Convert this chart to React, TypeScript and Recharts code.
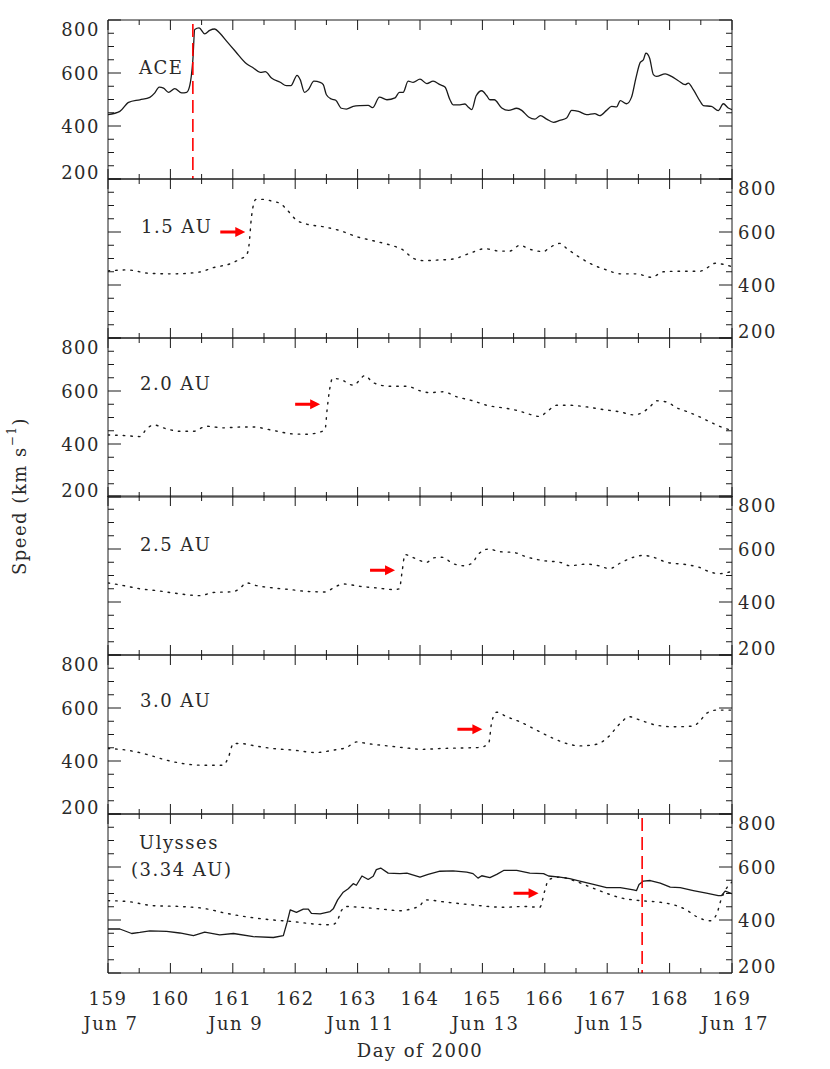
import React from "react";
import { LineChart, Line, XAxis, YAxis, ReferenceLine, ReferenceDot } from "recharts";

const FONT = "'DejaVu Serif', serif";
const INK = "#1a1a1a";
const RED = "#ff0000";

// axis ticks
const X_TICKS = [159, 159.5, 160, 160.5, 161, 161.5, 162, 162.5, 163, 163.5, 164, 164.5, 165, 165.5, 166, 166.5, 167, 167.5, 168, 168.5, 169];
const Y_TICKS = [200, 250, 300, 350, 400, 450, 500, 550, 600, 650, 700, 750, 800];
const DATE_LABELS: Record<number, string> = {
  159: "Jun 7",
  161: "Jun 9",
  163: "Jun 11",
  165: "Jun 13",
  167: "Jun 15",
  169: "Jun 17",
};

// [day, speed km/s]
const ACE: [number, number][] = [
  [159.0, 443], [159.19, 455], [159.33, 489], [159.51, 499], [159.67, 508], [159.75, 525], [159.82, 547], [159.89, 543],
  [159.97, 527], [160.07, 541], [160.18, 525], [160.26, 527], [160.31, 552], [160.36, 650], [160.39, 764], [160.46, 770],
  [160.55, 748], [160.63, 761], [160.71, 766], [160.79, 751], [160.9, 720], [161.04, 682], [161.22, 635], [161.33, 619],
  [161.44, 602], [161.52, 605], [161.62, 581], [161.76, 565], [161.86, 552], [161.93, 552], [162.03, 591], [162.08, 575],
  [162.15, 527], [162.21, 537], [162.3, 569], [162.4, 565], [162.45, 556], [162.5, 518], [162.58, 502], [162.65, 497],
  [162.74, 467], [162.82, 464], [162.93, 474], [163.04, 477], [163.17, 478], [163.24, 469], [163.35, 509], [163.47, 499],
  [163.6, 506], [163.67, 527], [163.73, 527], [163.81, 569], [163.89, 565], [164.0, 577], [164.11, 560], [164.21, 569],
  [164.32, 556], [164.4, 547], [164.48, 499], [164.53, 480], [164.64, 480], [164.72, 483], [164.77, 472], [164.83, 462],
  [164.9, 514], [164.99, 533], [165.07, 514], [165.12, 499], [165.19, 499], [165.31, 468], [165.42, 459], [165.55, 467],
  [165.63, 459], [165.74, 434], [165.84, 426], [165.93, 439], [166.03, 426], [166.14, 414], [166.24, 421], [166.35, 430],
  [166.43, 459], [166.54, 455], [166.67, 443], [166.8, 447], [166.88, 439], [166.99, 459], [167.07, 474], [167.15, 472],
  [167.21, 496], [167.31, 484], [167.39, 509], [167.46, 581], [167.53, 640], [167.58, 650], [167.62, 675], [167.68, 656],
  [167.74, 594], [167.79, 587], [167.93, 597], [168.03, 587], [168.14, 571], [168.25, 556], [168.3, 562], [168.38, 537],
  [168.49, 493], [168.54, 477], [168.67, 474], [168.78, 458], [168.86, 484], [168.94, 468], [169.0, 462],
];

const AU15: [number, number][] = [
  [159.0, 453], [159.3, 457], [159.67, 444], [160.05, 442], [160.47, 449], [160.68, 465], [160.98, 482], [161.11, 497],
  [161.22, 513], [161.26, 551], [161.3, 658], [161.37, 723], [161.49, 723], [161.65, 715], [161.76, 708], [161.86, 686],
  [162.02, 645], [162.18, 630], [162.45, 620], [162.72, 605], [162.99, 582], [163.25, 567], [163.52, 551], [163.73, 532],
  [163.89, 501], [164.05, 492], [164.27, 494], [164.53, 498], [164.8, 520], [165.04, 537], [165.28, 528], [165.44, 528],
  [165.6, 550], [165.76, 535], [165.98, 526], [166.06, 538], [166.24, 557], [166.35, 538], [166.56, 504], [166.78, 475],
  [166.99, 457], [167.21, 442], [167.47, 442], [167.71, 429], [167.9, 450], [168.17, 452], [168.49, 452], [168.59, 463],
  [168.73, 482], [168.86, 478], [169.0, 469],
];

const AU20: [number, number][] = [
  [159.0, 434], [159.25, 432], [159.51, 428], [159.62, 457], [159.73, 472], [159.94, 457], [160.15, 448], [160.37, 448],
  [160.58, 467], [160.85, 461], [161.12, 464], [161.33, 464], [161.65, 451], [161.97, 438], [162.18, 437], [162.4, 445],
  [162.48, 457], [162.51, 527], [162.55, 603], [162.6, 648], [162.72, 644], [162.93, 622], [163.12, 658], [163.25, 631],
  [163.52, 618], [163.79, 618], [164.0, 601], [164.16, 594], [164.37, 597], [164.59, 578], [164.85, 563], [165.07, 546],
  [165.34, 536], [165.55, 527], [165.76, 512], [165.92, 504], [166.03, 521], [166.19, 546], [166.4, 546], [166.67, 540],
  [166.94, 530], [167.21, 521], [167.42, 510], [167.58, 521], [167.69, 542], [167.79, 563], [167.95, 559], [168.11, 537],
  [168.27, 523], [168.43, 508], [168.65, 483], [168.83, 464], [169.0, 451],
];

const AU25: [number, number][] = [
  [159.0, 472], [159.25, 462], [159.51, 450], [159.78, 443], [160.05, 434], [160.47, 424], [160.69, 436], [161.01, 439],
  [161.12, 453], [161.22, 472], [161.38, 462], [161.65, 453], [161.92, 447], [162.18, 440], [162.48, 438], [162.64, 457],
  [162.77, 468], [163.04, 459], [163.31, 453], [163.57, 447], [163.67, 450], [163.71, 509], [163.76, 579], [163.84, 573],
  [164.0, 556], [164.11, 550], [164.21, 566], [164.35, 569], [164.53, 545], [164.69, 537], [164.83, 545], [164.93, 579],
  [165.1, 600], [165.28, 590], [165.5, 587], [165.71, 570], [165.98, 556], [166.24, 550], [166.4, 537], [166.67, 543],
  [166.86, 537], [167.04, 526], [167.21, 547], [167.42, 569], [167.58, 576], [167.74, 569], [167.95, 550], [168.27, 541],
  [168.46, 532], [168.65, 513], [168.81, 507], [169.0, 516],
];

const AU30: [number, number][] = [
  [159.0, 447], [159.3, 441], [159.62, 425], [159.94, 403], [160.21, 390], [160.53, 384], [160.85, 384], [160.93, 415],
  [161.01, 466], [161.12, 466], [161.38, 456], [161.65, 447], [161.97, 441], [162.34, 432], [162.61, 441], [162.82, 451],
  [162.99, 472], [163.15, 466], [163.52, 456], [163.79, 449], [164.05, 444], [164.32, 447], [164.64, 449], [164.96, 451],
  [165.1, 466], [165.15, 548], [165.23, 584], [165.39, 567], [165.6, 548], [165.87, 516], [166.14, 485], [166.35, 466],
  [166.56, 457], [166.83, 463], [166.99, 485], [167.21, 542], [167.35, 567], [167.53, 554], [167.79, 535], [168.06, 529],
  [168.38, 532], [168.49, 552], [168.59, 580], [168.75, 592], [169.0, 592],
];

const ULYSSES_OBS: [number, number][] = [
  [159.0, 366], [159.19, 366], [159.38, 349], [159.51, 353], [159.67, 359], [159.94, 357], [160.15, 351], [160.37, 341],
  [160.55, 354], [160.79, 344], [161.01, 349], [161.33, 337], [161.65, 334], [161.81, 341], [161.87, 391], [161.92, 438],
  [162.02, 429], [162.13, 441], [162.21, 441], [162.26, 425], [162.4, 423], [162.56, 432], [162.61, 442], [162.68, 476],
  [162.77, 505], [162.85, 518], [162.93, 537], [162.98, 531], [163.07, 566], [163.17, 553], [163.25, 565], [163.3, 590],
  [163.37, 596], [163.49, 577], [163.68, 575], [163.79, 577], [164.0, 562], [164.13, 572], [164.32, 584], [164.53, 585],
  [164.75, 581], [164.85, 575], [164.93, 558], [164.99, 567], [165.12, 560], [165.23, 572], [165.34, 587], [165.55, 587],
  [165.76, 577], [165.98, 575], [166.06, 566], [166.24, 562], [166.4, 556], [166.56, 547], [166.78, 534], [166.99, 522],
  [167.21, 522], [167.42, 514], [167.47, 511], [167.51, 534], [167.58, 547], [167.69, 549], [167.85, 539], [168.01, 524],
  [168.17, 522], [168.38, 511], [168.59, 501], [168.78, 492], [168.83, 492], [168.89, 509], [169.0, 499],
];

const ULYSSES_MODEL: [number, number][] = [
  [159.0, 473], [159.3, 470], [159.73, 454], [160.15, 451], [160.53, 444], [160.9, 425], [161.28, 410], [161.65, 400],
  [161.97, 394], [162.29, 385], [162.58, 382], [162.66, 391], [162.74, 435], [162.8, 451], [163.04, 448], [163.36, 442],
  [163.68, 435], [163.89, 444], [164.0, 454], [164.08, 476], [164.43, 467], [164.8, 458], [165.34, 448], [165.66, 451],
  [165.92, 448], [166.0, 511], [166.06, 552], [166.24, 562], [166.46, 549], [166.67, 530], [166.94, 505], [167.21, 484],
  [167.53, 473], [167.85, 467], [168.11, 454], [168.27, 438], [168.43, 413], [168.65, 397], [168.75, 420], [168.83, 480],
  [168.89, 511], [169.0, 543],
];

// shock arrival markers
const SHOCK_ACE = 160.36;
const SHOCK_ULYSSES = 167.56;

// layout
const CHART_W = 830;
const PLOT_L = 108;
const PLOT_R = 732;
const PAD = 5;
const PANEL_H = 159;
const PANEL_TOPS = [20, 179, 338, 496, 655, 814];
const BOTTOM_AXIS_H = 90;

const toPts = (arr: [number, number][]) => arr.map(([day, v]) => ({ day, v }));

const textStyle = { fontFamily: FONT, fontSize: 18, fill: "#2a2a2a", letterSpacing: 1.5 };

function yTick(side: "left" | "right", labelled: boolean) {
  return (p: any) => {
    const v = p.payload.value;
    const y = p.y;
    const major = v % 200 === 0;
    const len = major ? 13 : 6;
    const x0 = side === "left" ? PLOT_L : PLOT_R;
    const x1 = side === "left" ? x0 + len : x0 - len;
    const dy = v === 800 ? 9 : v === 200 ? -7 : 0;
    return (
      <g>
        <line x1={x0} x2={x1} y1={y} y2={y} stroke={INK} strokeWidth={1} />
        {labelled && major && (
          <text
            x={side === "left" ? x0 - 8 : x0 + 6}
            y={y + dy}
            textAnchor={side === "left" ? "end" : "start"}
            dominantBaseline="central"
            style={textStyle}
          >
            {v}
          </text>
        )}
      </g>
    );
  };
}

function xTick(pos: "top" | "bottom", labelled: boolean) {
  return (p: any) => {
    const v = p.payload.value;
    const x = p.x;
    const major = Number.isInteger(v);
    const len = major ? 10 : 5;
    const y0 = pos === "top" ? PAD : PAD + PANEL_H;
    const y1 = pos === "top" ? y0 + len : y0 - len;
    return (
      <g>
        <line x1={x} x2={x} y1={y0} y2={y1} stroke={INK} strokeWidth={1} />
        {labelled && major && (
          <text x={x} y={y0 + 25} textAnchor="middle" dominantBaseline="central" style={textStyle}>
            {v}
          </text>
        )}
        {labelled && DATE_LABELS[v] && (
          <text x={x + 3} y={y0 + 50} textAnchor="middle" dominantBaseline="central" style={textStyle}>
            {DATE_LABELS[v]}
          </text>
        )}
      </g>
    );
  };
}

const Arrow = (p: any) => {
  const { cx, cy } = p;
  const d = `M${cx - 25},${cy - 1.5} L${cx - 10},${cy - 1.5} L${cx - 10},${cy - 5} L${cx},${cy} L${cx - 10},${cy + 5} L${cx - 10},${cy + 1.5} L${cx - 25},${cy + 1.5} Z`;
  return <path d={d} fill={RED} />;
};

type Series = { data: [number, number][]; dotted: boolean; smooth: boolean };
type Panel = {
  series: Series[];
  labelSide: "left" | "right";
  arrow?: { day: number; v: number };
  shock?: number;
  showX?: boolean;
};

const PANELS: Panel[] = [
  { series: [{ data: ACE, dotted: false, smooth: true }], labelSide: "left", shock: SHOCK_ACE },
  { series: [{ data: AU15, dotted: true, smooth: true }], labelSide: "right", arrow: { day: 161.2, v: 600 } },
  { series: [{ data: AU20, dotted: true, smooth: true }], labelSide: "left", arrow: { day: 162.4, v: 550 } },
  { series: [{ data: AU25, dotted: true, smooth: true }], labelSide: "right", arrow: { day: 163.6, v: 520 } },
  { series: [{ data: AU30, dotted: true, smooth: true }], labelSide: "left", arrow: { day: 165.0, v: 520 } },
  {
    series: [
      { data: ULYSSES_MODEL, dotted: true, smooth: true },
      { data: ULYSSES_OBS, dotted: false, smooth: false },
    ],
    labelSide: "right",
    arrow: { day: 165.9, v: 501 },
    shock: SHOCK_ULYSSES,
    showX: true,
  },
];

function PanelChart({ panel }: { panel: Panel }) {
  const bottomH = panel.showX ? BOTTOM_AXIS_H : 1;
  const height = PANEL_H + 2 * PAD + (panel.showX ? BOTTOM_AXIS_H - 1 : 0);
  return (
    <LineChart width={CHART_W} height={height} margin={{ top: PAD - 1, right: 38, bottom: PAD - 1, left: 48 }}>
      <XAxis
        xAxisId="b"
        dataKey="day"
        type="number"
        domain={[159, 169]}
        ticks={X_TICKS}
        interval={0}
        height={bottomH}
        tickLine={false}
        axisLine={{ stroke: INK }}
        tick={xTick("bottom", !!panel.showX)}
        allowDataOverflow
      />
      <XAxis
        xAxisId="t"
        orientation="top"
        dataKey="day"
        type="number"
        domain={[159, 169]}
        ticks={X_TICKS}
        interval={0}
        height={1}
        tickLine={false}
        axisLine={{ stroke: INK }}
        tick={xTick("top", false)}
        allowDataOverflow
      />
      <YAxis
        yAxisId="l"
        type="number"
        domain={[200, 800]}
        ticks={Y_TICKS}
        interval={0}
        width={60}
        tickLine={false}
        axisLine={{ stroke: INK }}
        tick={yTick("left", panel.labelSide === "left")}
        allowDataOverflow
      />
      <YAxis
        yAxisId="r"
        orientation="right"
        type="number"
        domain={[200, 800]}
        ticks={Y_TICKS}
        interval={0}
        width={60}
        tickLine={false}
        axisLine={{ stroke: INK }}
        tick={yTick("right", panel.labelSide === "right")}
        allowDataOverflow
      />
      {panel.series.map((s, i) => (
        <Line
          key={i}
          xAxisId="b"
          yAxisId="l"
          data={toPts(s.data)}
          dataKey="v"
          type={s.smooth ? "monotone" : "linear"}
          stroke={INK}
          strokeWidth={s.dotted ? 1.4 : 1.3}
          strokeDasharray={s.dotted ? "1.6 6" : undefined}
          strokeLinecap="round"
          strokeLinejoin="round"
          dot={false}
          isAnimationActive={false}
        />
      ))}
      {panel.shock !== undefined && (
        <ReferenceLine
          xAxisId="b"
          yAxisId="l"
          segment={[
            { x: panel.shock, y: 800 },
            { x: panel.shock, y: 200 },
          ]}
          stroke={RED}
          strokeWidth={1.6}
          strokeDasharray="13 6"
          strokeDashoffset={-4}
        />
      )}
      {panel.arrow && (
        <ReferenceDot xAxisId="b" yAxisId="l" x={panel.arrow.day} y={panel.arrow.v} shape={Arrow} />
      )}
    </LineChart>
  );
}

const LABELS: { lines: string[]; dy: number[]; x: number[] }[] = [
  { lines: ["ACE"], dy: [47], x: [139] },
  { lines: ["1.5 AU"], dy: [47], x: [141] },
  { lines: ["2.0 AU"], dy: [45], x: [140] },
  { lines: ["2.5 AU"], dy: [48], x: [140] },
  { lines: ["3.0 AU"], dy: [45], x: [140] },
  { lines: ["Ulysses", "(3.34 AU)"], dy: [28, 55], x: [139, 131] },
];

export default function App() {
  return (
    <div style={{ position: "absolute", left: 0, top: 0, width: 830, height: 1069, background: "#fff" }}>
      {PANELS.map((p, i) => (
        <div key={i} style={{ position: "absolute", left: 0, top: PANEL_TOPS[i] - PAD }}>
          <PanelChart panel={p} />
        </div>
      ))}
      <svg
        width={830}
        height={1069}
        style={{ position: "absolute", left: 0, top: 0, pointerEvents: "none" }}
      >
        {LABELS.map((l, i) =>
          l.lines.map((line, j) => (
            <text
              key={`${i}-${j}`}
              x={l.x[j]}
              y={PANEL_TOPS[i] + l.dy[j]}
              dominantBaseline="central"
              style={textStyle}
            >
              {line}
            </text>
          ))
        )}
        <text x={420} y={1050} textAnchor="middle" dominantBaseline="central" style={textStyle}>
          Day of 2000
        </text>
        <text
          transform="translate(19,496) rotate(-90)"
          textAnchor="middle"
          dominantBaseline="central"
          style={textStyle}
        >
          Speed (km s
          <tspan dy={-7} fontSize={12}>
            −1
          </tspan>
          <tspan dy={7}>)</tspan>
        </text>
      </svg>
    </div>
  );
}
